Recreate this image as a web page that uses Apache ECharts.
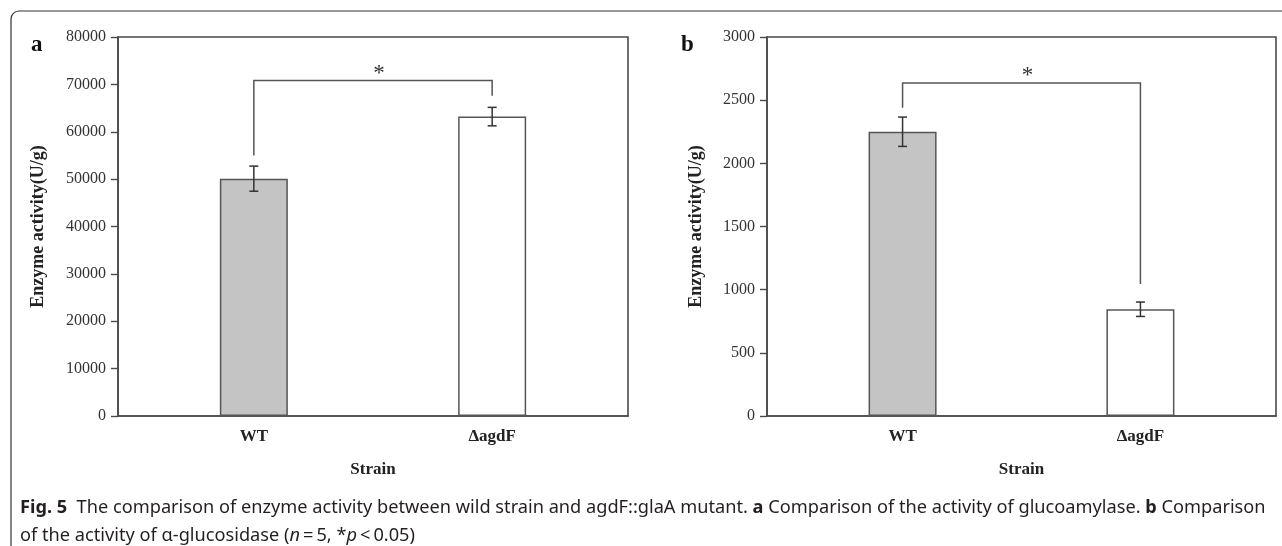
<!DOCTYPE html>
<html>
<head>
<meta charset="utf-8">
<script src="https://cdn.jsdelivr.net/npm/echarts@6/dist/echarts.min.js"></script>
<style>
  html, body { margin: 0; padding: 0; background: #ffffff; }
  #chart { width: 1282px; height: 546px; }
</style>
</head>
<body>
<div id="chart"></div>
<script>
// ---- data ----
const categories = ['WT', 'ΔagdF'];
const categoryPos = [1, 2];
const glucoamylase = [50100, 63200];
const glucoamylaseErr = [2650, 1950];
const glucosidase = [2250, 845];
const glucosidaseErr = [116, 57];
const yRangeA = [0, 80000];
const yStepA = 10000;
const yRangeB = [0, 3000];
const yStepB = 500;
const bracketTopA = 70800;
const bracketLegsA = [55000, 67600];
const bracketTopB = 2636;
const bracketLegsB = [2440, 1045];
const barFill = ['#c4c4c4', '#ffffff'];
const yName = 'Enzyme activity(U/g)';
const xName = 'Strain';
const panelLabels = ['a', 'b'];

// ---- styles ----
const serif = '"Liberation Serif", "DejaVu Serif", serif';
const axisColor = '#4a4a4a';
const textColor = '#222222';

function xAxisFor(gi) {
  return {
    gridIndex: gi, type: 'value', min: 0.43, max: 2.57,
    axisLine: { show: true, onZero: false, lineStyle: { color: axisColor, width: 1.6 } },
    axisTick: { show: false },
    splitLine: { show: false },
    axisLabel: {
      customValues: categoryPos,
      formatter: function (v) { return categories[Math.round(v) - 1] || ''; },
      fontFamily: serif, fontWeight: 'bold', fontSize: 17, color: textColor, margin: 12
    },
    name: xName, nameLocation: 'middle', nameGap: 45,
    nameTextStyle: { fontFamily: serif, fontWeight: 'bold', fontSize: 17, color: textColor }
  };
}
function yAxisFor(gi, range, step, gap) {
  return {
    gridIndex: gi, type: 'value', min: range[0], max: range[1], interval: step,
    axisLine: { show: true, lineStyle: { color: axisColor, width: 1.6 } },
    axisTick: { show: true, length: 7, lineStyle: { color: axisColor, width: 1.4 } },
    splitLine: { show: false },
    axisLabel: { fontFamily: serif, fontSize: 16, color: '#333', margin: 12,
      formatter: function (v) { return String(v); } },
    name: yName, nameLocation: 'middle', nameGap: gap, nameRotate: 90,
    nameTextStyle: { fontFamily: serif, fontWeight: 'bold', fontSize: 18, color: textColor }
  };
}
function barSeries(gi, vals) {
  return {
    type: 'bar', xAxisIndex: gi, yAxisIndex: gi, barWidth: 68,
    data: vals.map(function (v, i) {
      return { value: [categoryPos[i], v], itemStyle: { color: barFill[i] } };
    }),
    itemStyle: { borderColor: '#555', borderWidth: 1.5 },
    emphasis: { disabled: true }, silent: true, animation: false
  };
}
function errSeries(gi, vals, errs) {
  return {
    type: 'custom', xAxisIndex: gi, yAxisIndex: gi, silent: true, animation: false, z: 5,
    data: vals.map(function (v, i) { return [categoryPos[i], v - errs[i], v + errs[i]]; }),
    encode: { x: 0, y: [1, 2] },
    renderItem: function (params, api) {
      const lo = api.coord([api.value(0), api.value(1)]);
      const hi = api.coord([api.value(0), api.value(2)]);
      const w = 4.5;
      const st = { stroke: '#333', lineWidth: 1.5, fill: null };
      return { type: 'group', children: [
        { type: 'line', shape: { x1: lo[0], y1: lo[1], x2: hi[0], y2: hi[1] }, style: st },
        { type: 'line', shape: { x1: lo[0] - w, y1: lo[1], x2: lo[0] + w, y2: lo[1] }, style: st },
        { type: 'line', shape: { x1: hi[0] - w, y1: hi[1], x2: hi[0] + w, y2: hi[1] }, style: st }
      ] };
    }
  };
}
function bracketSeries(gi, top, legs) {
  return {
    type: 'custom', xAxisIndex: gi, yAxisIndex: gi, silent: true, animation: false, z: 5,
    data: [[categoryPos[0], categoryPos[1], legs[0], legs[1], top]],
    encode: { x: [0, 1], y: [2, 3, 4] },
    renderItem: function (params, api) {
      const a = api.coord([api.value(0), api.value(2)]);
      const b = api.coord([api.value(0), api.value(4)]);
      const c = api.coord([api.value(1), api.value(4)]);
      const d = api.coord([api.value(1), api.value(3)]);
      return { type: 'group', children: [
        { type: 'polyline', shape: { points: [a, b, c, d] },
          style: { stroke: '#555', lineWidth: 1.5, fill: null } },
        { type: 'text', x: (b[0] + c[0]) / 2 + 6, y: b[1] - 7,
          style: { text: '*', font: '23px ' + serif, fill: '#333', align: 'center', verticalAlign: 'middle' } }
      ] };
    }
  };
}

const chart = echarts.init(document.getElementById('chart'), null, { renderer: 'canvas' });
const sansFont = '"Noto Sans", sans-serif';
const option = {
  backgroundColor: '#ffffff',
  animation: false,
  grid: [
    { left: 118, right: 654, top: 37, bottom: 130, show: true, borderColor: axisColor, borderWidth: 1.6, backgroundColor: 'transparent', containLabel: false, outerBoundsMode: 'none' },
    { left: 767, right: 6, top: 37, bottom: 130, show: true, borderColor: axisColor, borderWidth: 1.6, backgroundColor: 'transparent', containLabel: false, outerBoundsMode: 'none' }
  ],
  xAxis: [xAxisFor(0), xAxisFor(1)],
  yAxis: [yAxisFor(0, yRangeA, yStepA, 71), yAxisFor(1, yRangeB, yStepB, 62)],
  series: [
    barSeries(0, glucoamylase), errSeries(0, glucoamylase, glucoamylaseErr), bracketSeries(0, bracketTopA, bracketLegsA),
    barSeries(1, glucosidase), errSeries(1, glucosidase, glucosidaseErr), bracketSeries(1, bracketTopB, bracketLegsB)
  ],
  graphic: [
    { type: 'rect', shape: { x: 11, y: 11, width: 1400, height: 700, r: 8 },
      style: { fill: null, stroke: '#333', lineWidth: 1.2 }, silent: true, z: 0 },
    { type: 'text', left: 31, top: 34,
      style: { text: panelLabels[0], font: 'bold 23px ' + serif, fill: '#111' } },
    { type: 'text', left: 681, top: 34,
      style: { text: panelLabels[1], font: 'bold 23px ' + serif, fill: '#111' } },
    { type: 'text', left: 20, top: 499,
      style: {
        text: '{b|Fig. 5}  The comparison of enzyme activity between wild strain and agdF::glaA mutant. {b|a} Comparison of the activity of glucoamylase. {b|b} Comparison',
        font: '18.2px ' + sansFont, fill: '#231f20',
        rich: { b: { fontWeight: 'bold', fontFamily: sansFont, fontSize: 18.2, fill: '#231f20' } }
      } },
    { type: 'text', left: 20, top: 527,
      style: {
        text: 'of the activity of α-glucosidase ({i|n}\u2009=\u20095, *{i|p}\u2009<\u20090.05)',
        font: '18.2px ' + sansFont, fill: '#231f20',
        rich: { i: { fontStyle: 'italic', fontFamily: sansFont, fontSize: 18.2, fill: '#231f20' } }
      } }
  ]
};
chart.setOption(option);
</script>
</body>
</html>
